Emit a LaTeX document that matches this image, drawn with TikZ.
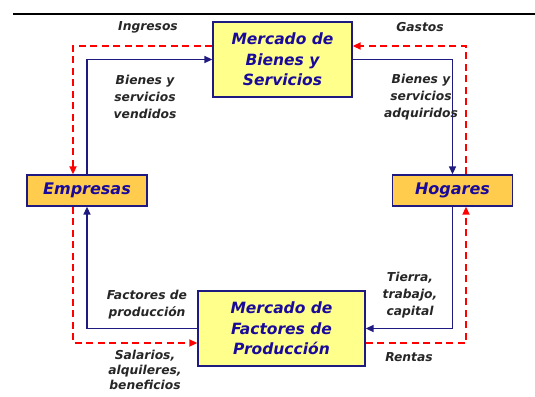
\documentclass[tikz,border=0pt]{standalone}
\usepackage{fontspec}
\setmainfont{DejaVu Sans}
\usetikzlibrary{arrows.meta}
\definecolor{navy}{HTML}{1E1A80}
\definecolor{boxtext}{HTML}{1A0A9A}
\definecolor{lightyel}{HTML}{FFFF8C}
\definecolor{darkyel}{HTML}{FFCC4E}
\tikzset{
 mercado/.style={draw=navy,line width=1.3pt,fill=lightyel,inner sep=0pt,align=center,
  text=boxtext,font=\fontsize{15.5}{20.5}\selectfont\bfseries\itshape},
 agente/.style={mercado,fill=darkyel,minimum width=120pt,minimum height=31pt,
  font=\fontsize{16}{20}\selectfont\bfseries\itshape},
 etiqueta/.style={align=center,text=black!85,font=\fontsize{12.3}{17}\selectfont\bfseries\itshape},
 real/.style={draw=navy,line width=1.6pt,-{Triangle[length=8pt,width=7pt]}},
 dinero/.style={draw=red,line width=1.7pt,dash pattern=on 7pt off 4.5pt,-{Triangle[length=8pt,width=7pt]}}
}
\begin{document}
\begin{tikzpicture}[x=1pt,y=-1pt]
 \useasboundingbox (0,0) rectangle (535,396);
 \draw[line width=1.5pt](13,14)--(535,14);
 \node[mercado,minimum width=139pt,minimum height=75pt](bienes) at (282.5,59.5){Mercado de\\Bienes y\\Servicios};
 \node[mercado,minimum width=167pt,minimum height=75pt](factores) at (281.5,328.5){Mercado de\\Factores de\\Producción};
 \node[agente](empresas) at (87,190.5){Empresas};
 \node[agente](hogares) at (452.5,190.5){Hogares};
 % flujo real
 \draw[real](empresas.north) |- (bienes.west);
 \draw[real](bienes.east) -| (hogares.north);
 \draw[real](hogares.south) |- (factores.east);
 \draw[real](factores.west) -| (empresas.south);
 % flujo monetario
 \draw[dinero]([yshift=13.5pt]bienes.west) -| ([xshift=-14pt]empresas.north);
 \draw[dinero]([xshift=13.5pt]hogares.north) |- ([yshift=13.5pt]bienes.east);
 \draw[dinero]([xshift=-14pt]empresas.south) |- ([yshift=-14.5pt]factores.west);
 \draw[dinero]([yshift=-14.5pt]factores.east) -| ([xshift=13.5pt]hogares.south);
 \node[etiqueta](ingresos) at (148,27){Ingresos};
 \node[etiqueta](gastos) at (420,27){Gastos};
 \node[etiqueta](vendidos) at (145,97){Bienes y\\servicios\\vendidos};
 \node[etiqueta](adquiridos) at (421,97){Bienes y\\servicios\\adquiridos};
 \node[etiqueta](fprod) at (147,304.5){Factores de\\producción};
 \node[etiqueta](tierra) at (410,295){Tierra,\\trabajo,\\capital};
 \node[etiqueta,font=\fontsize{12.3}{15}\selectfont\bfseries\itshape](salarios) at (145,370){Salarios,\\alquileres,\\beneficios};
 \node[etiqueta](rentas) at (409,357){Rentas};
\end{tikzpicture}
\end{document}
